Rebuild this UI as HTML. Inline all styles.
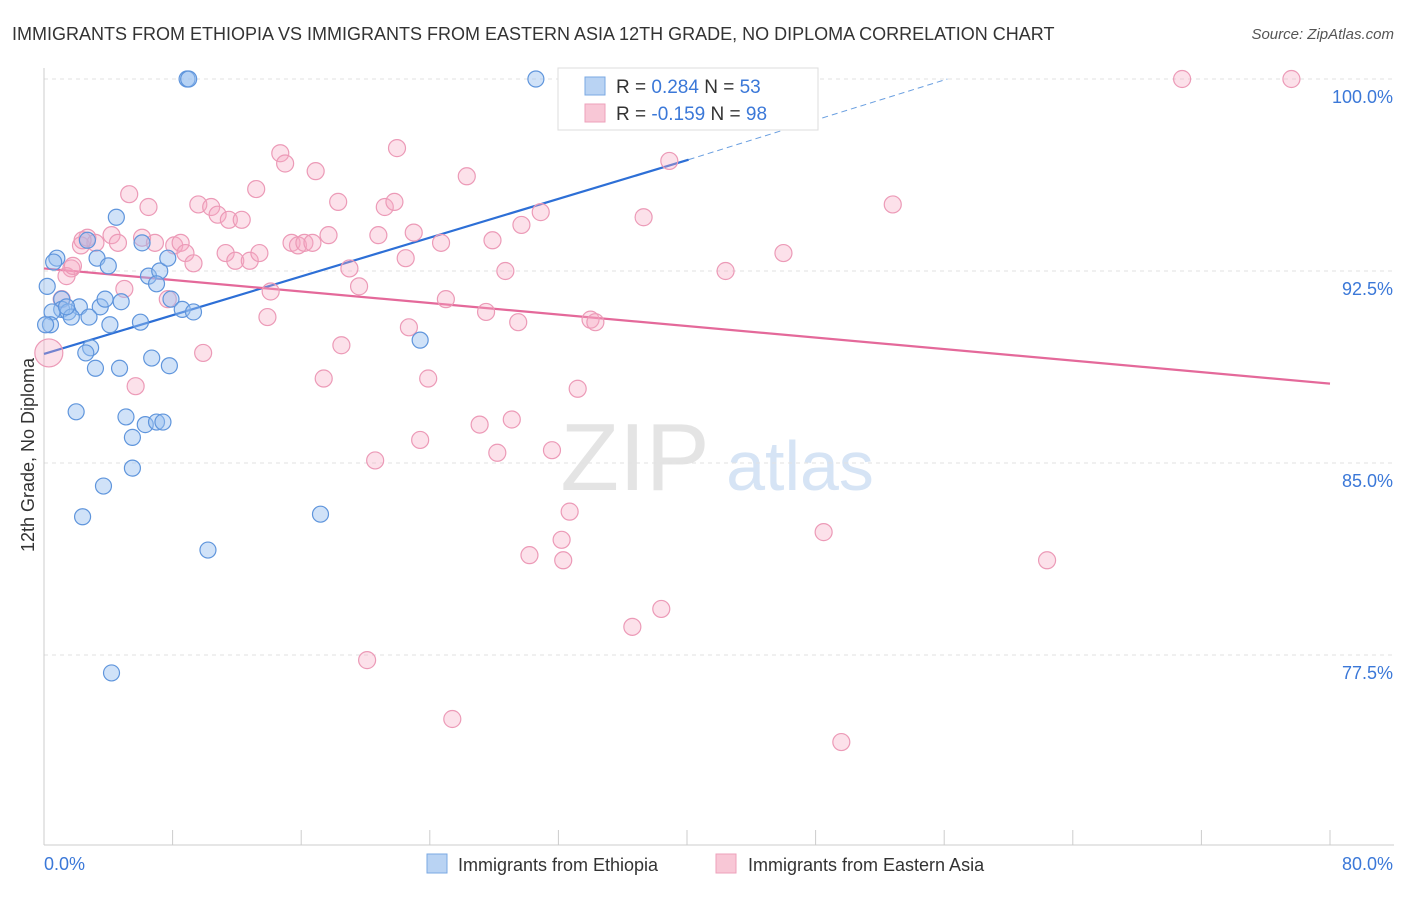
<!DOCTYPE html>
<html><head><meta charset="utf-8"><style>
body{margin:0;background:#fff;font-family:"Liberation Sans",sans-serif;}
svg text{font-family:"Liberation Sans",sans-serif;}
</style></head><body>
<svg id="c" width="1406" height="892" xmlns="http://www.w3.org/2000/svg">
<text x="12" y="40" font-size="18" fill="#333">IMMIGRANTS FROM ETHIOPIA VS IMMIGRANTS FROM EASTERN ASIA 12TH GRADE, NO DIPLOMA CORRELATION CHART</text>
<text x="1394" y="39" font-size="15" fill="#555" font-style="italic" text-anchor="end">Source: ZipAtlas.com</text>
<text x="34" y="455" font-size="18" fill="#333" text-anchor="middle" transform="rotate(-90 34 455)">12th Grade, No Diploma</text>
<g><text x="635" y="490" font-size="96" fill="#e4e4e4" font-family="Liberation Serif" text-anchor="middle">ZIP</text><text x="800" y="490" font-size="70" fill="#d6e4f5" text-anchor="middle">atlas</text></g>
<g id="grid"></g><g id="axes"></g><g id="trend"></g><g id="pts"></g>
<g>
<rect x="558" y="68" width="260" height="62" fill="#fff" stroke="#ddd"/>
<rect x="585" y="77" width="20" height="18" fill="#b9d3f3" stroke="#7aa8e3"/>
<rect x="585" y="104" width="20" height="18" fill="#f8c7d6" stroke="#eea1bb"/>
<text x="616" y="93" font-size="19" fill="#333">R = <tspan fill="#3b78d8">0.284</tspan>   N = <tspan fill="#3b78d8">53</tspan></text>
<text x="616" y="120" font-size="19" fill="#333">R = <tspan fill="#3b78d8">-0.159</tspan>   N = <tspan fill="#3b78d8">98</tspan></text>
</g>
<g>
<rect x="427" y="854" width="20" height="19" fill="#b9d3f3" stroke="#7aa8e3"/>
<text x="458" y="871" font-size="18" fill="#333">Immigrants from Ethiopia</text>
<rect x="716" y="854" width="20" height="19" fill="#f8c7d6" stroke="#eea1bb"/>
<text x="748" y="871" font-size="18" fill="#333">Immigrants from Eastern Asia</text>
</g>
</svg>
<script>
const blueX=[8.9,9.0,30.6,33.1,4.5,0.8,0.6,3.3,4.0,6.1,2.7,6.5,7.2,7.7,0.2,1.1,2.2,3.5,3.8,4.8,1.1,1.5,1.7,2.8,4.1,6.0,7.9,8.6,9.3,0.5,0.4,2.9,2.6,3.2,4.7,6.7,7.8,23.4,2.0,5.1,6.3,7.0,7.4,5.5,5.5,3.7,2.4,17.2,10.2,4.2,0.1,1.4,7.0];
const blueY=[100,100,100,100,94.6,93.0,92.85,93.0,92.7,93.6,93.7,92.3,92.5,93.0,91.9,91.4,91.1,91.1,91.4,91.3,91.0,90.9,90.7,90.7,90.4,90.5,91.4,91.0,90.9,90.9,90.4,89.5,89.3,88.7,88.7,89.1,88.8,89.8,87.0,86.8,86.5,86.6,86.6,86.0,84.8,84.1,82.9,83.0,81.6,76.8,90.4,91.1,92.0];
const pinkX=[0.3,1.1,1.7,1.4,1.8,2.3,2.7,3.2,4.2,4.6,5.3,6.5,6.1,6.9,5.0,5.7,7.7,8.1,8.5,8.8,9.3,9.9,9.6,10.4,10.8,11.5,12.3,11.3,11.9,12.8,13.4,13.2,13.9,14.1,14.7,15.0,15.4,15.8,16.2,16.7,16.9,17.4,17.7,18.3,18.5,19.0,19.6,20.1,20.6,20.8,21.2,21.8,21.96,22.5,22.7,23.0,23.4,23.9,24.7,25.0,25.4,26.3,27.1,27.5,27.9,28.2,28.7,29.1,29.5,29.7,30.2,30.9,31.6,32.2,32.3,32.7,33.2,34.0,34.3,36.6,37.3,38.4,38.9,42.4,46.0,48.5,49.6,52.8,62.4,70.8,77.6,43.1,38.0,2.4];
const pinkY=[89.3,91.4,92.6,92.3,92.7,93.5,93.8,93.6,93.9,93.6,95.5,95.0,93.8,93.6,91.8,88.0,91.4,93.5,93.6,93.2,92.8,89.3,95.1,95.0,94.7,94.5,94.5,93.2,92.9,92.9,93.2,95.7,90.7,91.7,97.1,96.7,93.6,93.5,93.6,93.6,96.4,88.3,93.9,95.2,89.6,92.6,91.9,77.3,85.1,93.9,95.0,95.2,97.3,93.0,90.3,94.0,85.9,88.3,93.6,91.4,75.0,96.2,86.5,90.9,93.7,85.4,92.5,86.7,90.5,94.3,81.4,94.8,85.5,82.0,81.2,83.1,87.9,90.6,90.5,78.6,94.6,79.3,96.8,92.5,93.2,82.3,74.1,95.1,81.2,100,100,100,100,93.7];
const blueTrendX=[0,40.1,56.2];
const blueTrendY=[89.26,96.85,100];
const pinkTrendX=[0,80];
const pinkTrendY=[92.6,88.1];
const yTicks=[100,92.5,85,77.5];
const yTickLabels=["100.0%","92.5%","85.0%","77.5%"];
const xTicks=[0,8,16,24,32,40,48,56,64,72,80];

const NS="http://www.w3.org/2000/svg";
const X=v=>44+v*1286/80;
const Y=v=>79+(100-v)*25.6;
function mk(tag,attrs,parent){const e=document.createElementNS(NS,tag);for(const k in attrs)e.setAttribute(k,attrs[k]);document.getElementById(parent).appendChild(e);return e;}

yTicks.forEach((t,i)=>{
  const l=mk('line',{x1:44,x2:1394,y1:Y(t),y2:Y(t),stroke:'#e2e2e2','stroke-dasharray':'4 4'},'grid');
  
  
  const tx=mk('text',{x:1393,y:Y(t)+24,'font-size':18,fill:'#3b78d8','text-anchor':'end'},'grid');
  tx.textContent=yTickLabels[i];
  
  
});
const ax=mk('line',{x1:44,x2:44,y1:68,y2:845,stroke:'#ccc'},'axes');


const bx=mk('line',{x1:44,x2:1394,y1:845,y2:845,stroke:'#ccc'},'axes');


xTicks.forEach(t=>{
  const l=mk('line',{x1:X(t),x2:X(t),y1:830,y2:845,stroke:'#ccc'},'axes');
  
  
});
const xl0=mk('text',{x:44,y:870,'font-size':18,fill:'#3b78d8'},'axes');xl0.textContent='0.0%';


const xl1=mk('text',{x:1393,y:870,'font-size':18,fill:'#3b78d8','text-anchor':'end'},'axes');xl1.textContent='80.0%';



pinkX.forEach((x,i)=>{
  const c=mk('circle',{cx:X(x),cy:Y(pinkY[i]),r:i===0?14:8.5,fill:'rgba(246,170,196,0.35)',stroke:'#ec9ab7','stroke-width':1.2},'pts');
  
  
});
blueX.forEach((x,i)=>{
  const c=mk('circle',{cx:X(x),cy:Y(blueY[i]),r:8,fill:'rgba(150,190,240,0.45)',stroke:'#5f95dc','stroke-width':1.2},'pts');
  
  
});
const bt=mk('line',{x1:X(blueTrendX[0]),y1:Y(blueTrendY[0]),x2:X(blueTrendX[1]),y2:Y(blueTrendY[1]),stroke:'#2d6fd6','stroke-width':2.2},'trend');


const bd=mk('line',{x1:X(blueTrendX[1]),y1:Y(blueTrendY[1]),x2:X(blueTrendX[2]),y2:Y(blueTrendY[2]),stroke:'#6a9fe0','stroke-width':1,'stroke-dasharray':'6 4'},'trend');


const pt=mk('line',{x1:X(pinkTrendX[0]),y1:Y(pinkTrendY[0]),x2:X(pinkTrendX[1]),y2:Y(pinkTrendY[1]),stroke:'#e4699a','stroke-width':2.2},'trend');


</script>
</body></html>
